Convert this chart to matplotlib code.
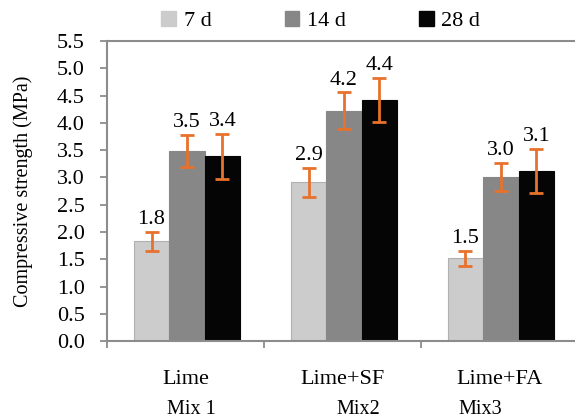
import numpy as np
import matplotlib.pyplot as plt
from matplotlib.patches import Patch
from matplotlib.ticker import FormatStrFormatter, MultipleLocator

plt.rcParams['font.family'] = ['Liberation Serif', 'DejaVu Serif']

# data
mixes = ['Lime', 'Lime+SF', 'Lime+FA']
mix_names = ['Mix 1', 'Mix2', 'Mix3']
ages = ['7 d', '14 d', '28 d']
strength_7d = [1.83, 2.91, 1.52]
strength_14d = [3.49, 4.22, 3.01]
strength_28d = [3.39, 4.42, 3.12]
err_7d = [0.17, 0.27, 0.14]
err_14d = [0.29, 0.34, 0.25]
err_28d = [0.41, 0.40, 0.40]
labels_7d = ['1.8', '2.9', '1.5']
labels_14d = ['3.5', '4.2', '3.0']
labels_28d = ['3.4', '4.4', '3.1']

colors = ['#cccccc', '#878787', '#050505']
edges = ['#b0b0b0', '#878787', '#050505']
err_color = '#e8712c'
axis_color = '#8c8c8c'


def main():
    fig = plt.figure(figsize=(5.75, 4.19), dpi=100)
    ax = fig.add_axes([0.186, 0.186, 0.819, 0.716])

    x = np.arange(len(mixes))
    w = 0.226
    series = [(strength_7d, err_7d, labels_7d),
              (strength_14d, err_14d, labels_14d),
              (strength_28d, err_28d, labels_28d)]
    for i, (vals, errs, labs) in enumerate(series):
        pos = x + (i - 1) * w + 0.01
        ax.bar(pos, vals, width=w, color=colors[i], edgecolor=edges[i],
               linewidth=0.8, zorder=2)
        ax.errorbar(pos, vals, yerr=errs, fmt='none', ecolor=err_color,
                    elinewidth=2, capsize=5, capthick=2, zorder=3)
        for p, v, e, t in zip(pos, vals, errs, labs):
            ax.annotate(t, (p, v + e), xytext=(0, 2), textcoords='offset points',
                        ha='center', va='bottom', fontsize=16)

    ax.set_xlim(-0.5, len(mixes) - 0.5)
    ax.set_ylim(0, 5.5)
    ax.yaxis.set_major_locator(MultipleLocator(0.5))
    ax.yaxis.set_major_formatter(FormatStrFormatter('%.1f'))
    ax.set_xticks(x)
    ax.set_xticklabels(mixes, fontsize=16)
    ax.set_xticks(np.arange(len(mixes) + 1) - 0.5, minor=True)
    ax.tick_params(axis='x', which='major', length=0, pad=21)
    ax.tick_params(axis='x', which='minor', length=5, width=1.3, color=axis_color)
    ax.tick_params(axis='y', length=5, width=1.3, color=axis_color,
                   labelsize=16, pad=11)
    for s in ax.spines.values():
        s.set_color(axis_color)
        s.set_linewidth(1.5)
    ax.spines['right'].set_visible(False)

    ax.set_ylabel('Compressive strength (MPa)', fontsize=14.5, labelpad=17)

    # mix names under the category labels
    mix_offsets = [0.04, 0.1, -0.12]
    for i, (name, off) in enumerate(zip(mix_names, mix_offsets)):
        ax.text(i + off, -0.229, name, transform=ax.get_xaxis_transform(),
                ha='center', va='center', fontsize=14.5)

    handles = [Patch(facecolor=c, edgecolor=c) for c in colors]
    fig.legend(handles, ages, loc='center', bbox_to_anchor=(0.558, 0.95),
               ncol=3, frameon=False, fontsize=16, handlelength=0.65,
               handleheight=0.65, handletextpad=0.35, columnspacing=3.3)

    fig.savefig('out.png', dpi=100)


if __name__ == "__main__":
    main()
